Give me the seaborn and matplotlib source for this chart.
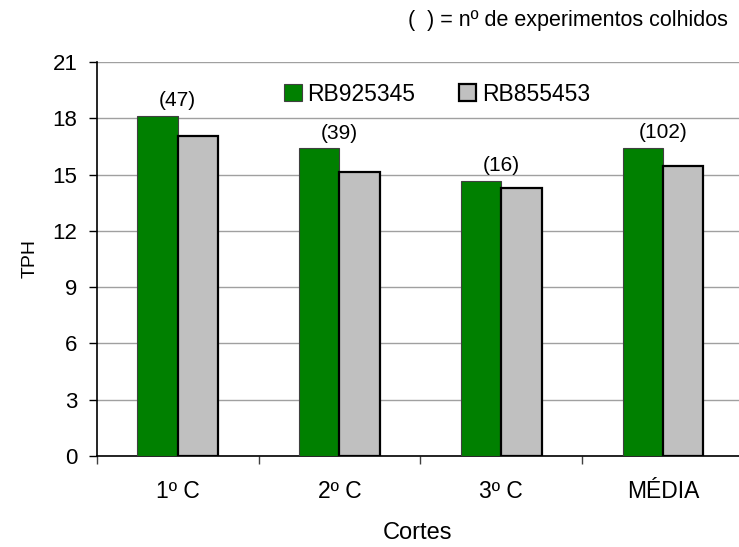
import pandas as pd
import seaborn as sns
import matplotlib.pyplot as plt

# dados (TPH por corte)
cortes = ['1º C', '2º C', '3º C', 'MÉDIA']
variedades = ['RB925345', 'RB855453']
tph_rb925345 = [18.12, 16.40, 14.68, 16.41]
tph_rb855453 = [17.07, 15.11, 14.28, 15.46]
n_experimentos = ['(47)', '(39)', '(16)', '(102)']

df = pd.DataFrame({
    'Cortes': cortes * 2,
    'Variedade': [variedades[0]] * 4 + [variedades[1]] * 4,
    'TPH': tph_rb925345 + tph_rb855453,
})

sns.set_style('white')
plt.rcParams['font.family'] = ['Liberation Sans', 'DejaVu Sans']
plt.rcParams['text.color'] = 'black'
plt.rcParams['axes.labelcolor'] = 'black'
plt.rcParams['xtick.color'] = 'black'
plt.rcParams['ytick.color'] = 'black'

fig = plt.figure(figsize=(7.39, 5.47), dpi=100)
ax = fig.add_axes([0.131, 0.1664, 0.869, 0.7203])

sns.barplot(data=df, x='Cortes', y='TPH', hue='Variedade', order=cortes,
            hue_order=variedades, palette=['#008000', '#C0C0C0'], width=0.5,
            saturation=1, ax=ax, zorder=3)
for bar in ax.patches:
    if bar.get_facecolor()[1] > 0.6:
        bar.set_edgecolor('black')
        bar.set_linewidth(1.6)
    else:
        bar.set_edgecolor('#404040')
        bar.set_linewidth(0.8)

# numero de experimentos acima de cada grupo
for i, txt in enumerate(n_experimentos):
    ax.text(i, tph_rb925345[i] + 0.3, txt, ha='center', va='bottom', fontsize=15)

ax.set_ylim(0, 21)
ax.set_yticks(range(0, 22, 3))
ax.set_xlim(-0.5, 3.47)
ax.yaxis.grid(True, color='#a0a0a0', linewidth=1, zorder=0)
ax.set_axisbelow(True)

ax.set_xticks([-0.5, 0.5, 1.5, 2.5])
ax.set_xticklabels([])
ax.set_xticks(range(4), minor=True)
ax.set_xticklabels(cortes, minor=True, fontsize=16.5)
ax.tick_params(axis='x', which='major', length=6, width=1, direction='out', color='#404040', bottom=True)
ax.tick_params(axis='x', which='minor', length=0, pad=17)
ax.tick_params(axis='y', length=6, width=1, direction='out', left=True, labelsize=16, pad=8)

for s in ['top', 'right']:
    ax.spines[s].set_visible(False)
ax.spines['left'].set_color('black')
ax.spines['bottom'].set_color('black')
ax.spines['left'].set_linewidth(1.2)
ax.spines['bottom'].set_linewidth(1.2)

ax.set_xlabel('Cortes', fontsize=17, labelpad=14)
ax.set_ylabel('TPH', fontsize=14, labelpad=10)

ax.legend(loc='upper center', bbox_to_anchor=(0.53, 1.0), ncol=2, frameon=False,
          fontsize=16.5, handlelength=0.75, handleheight=0.75, handletextpad=0.25,
          columnspacing=1.9, borderaxespad=0.5)

fig.text(0.985, 0.962, '(  ) = nº de experimentos colhidos', ha='right', va='center', fontsize=15.5)

plt.savefig('out.png', dpi=100)
